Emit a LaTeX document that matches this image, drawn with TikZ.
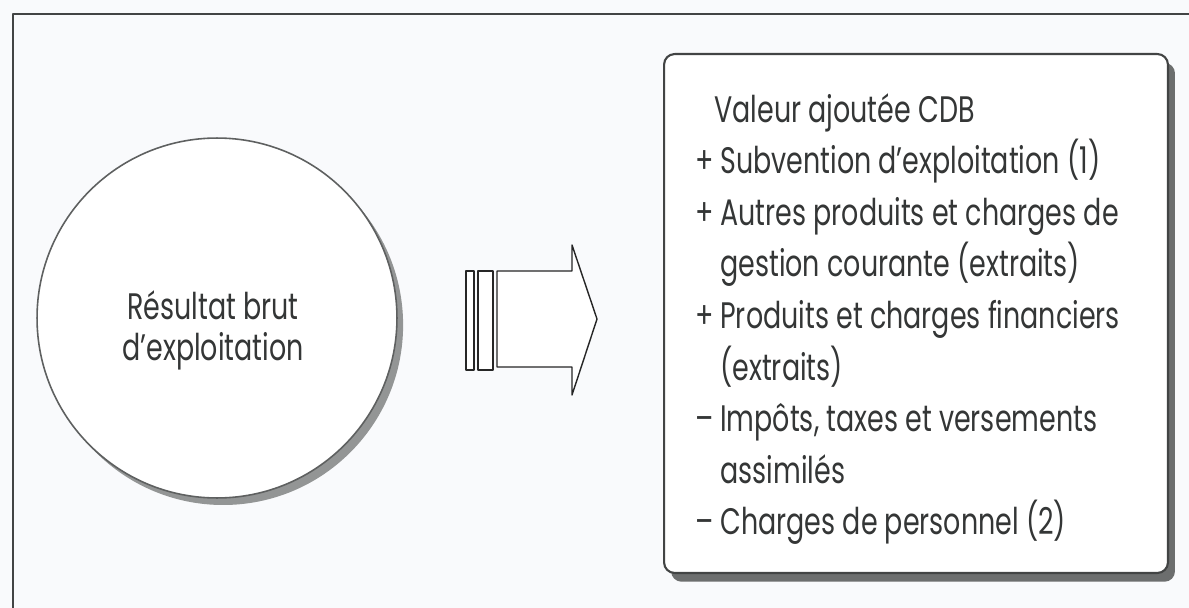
\documentclass[tikz,border=0pt]{standalone}
\usepackage{fontspec}
\setmainfont{Poppins}[FakeStretch=0.73]
\usepackage{tikz}
\usetikzlibrary{positioning, calc, shadows}

\definecolor{fond}{RGB}{249,250,252}
\definecolor{trait}{RGB}{66,68,68}
\definecolor{ombre}{RGB}{120,122,122}
\definecolor{encre}{RGB}{52,54,54}

\begin{document}
\begin{tikzpicture}[x=0.02cm, y=-0.02cm, line cap=round, line join=round]
    % Styles
    \tikzset{
        cadre/.style={line width=1.4pt, trait},
        bulle/.style={circle, draw=trait!85, line width=0.9pt, fill=white, minimum size=7.2cm, inner sep=0pt,
            drop shadow={shadow xshift=3.5pt, shadow yshift=-4pt, fill=ombre!80, opacity=1}},
        boite/.style={rectangle, rounded corners=6pt, draw=trait, line width=1.2pt, fill=white,
            minimum width=10.08cm, minimum height=10.38cm, inner sep=0pt,
            drop shadow={shadow xshift=4pt, shadow yshift=-5pt, fill=ombre!90!black, opacity=1}},
        barre/.style={line width=0.8pt, black!85, fill=white},
        fleche/.style={line width=0.8pt, black!85, fill=white},
        ligne/.style={anchor=base west, inner sep=0pt, font=\fontsize{21}{23.3}\selectfont, text=encre}
    }

    % Fond et cadre (ouvert en bas et a droite)
    \fill[fond] (0,0) rectangle (1189,608);
    \useasboundingbox (0,0) rectangle (1189,608);
    \draw[cadre] (13,608) -- (13,14) -- (1189,14);

    % --- Cercle ---
    \node[bulle] (rbe) at (217,318) {};
    \node[align=center, inner sep=0pt, text=encre, font=\fontsize{21}{23.3}\selectfont]
        (rbe_txt) at (213,330) {Résultat brut\\d’exploitation};

    % --- Barres et fleche ---
    \draw[barre] (466,271) rectangle (474,370);
    \draw[barre] (478,271) rectangle (493,370);

    \coordinate (F_hg) at (497,271);
    \coordinate (F_bg) at (497,367);
    \coordinate (F_pointe) at (597,319);
    \draw[fleche] (F_hg) -- (572,271) -- (572,245) -- (F_pointe)
        -- (572,395) -- (572,367) -- (F_bg) -- cycle;

    % --- Boite de droite ---
    \node[boite] (va) at (916,313.5) {};
    \node[ligne] (va_l0) at (714,122) {Valeur ajoutée CDB};
    \foreach \signe/\texte [count=\i] in {
        +/{Subvention d’exploitation (1)},
        +/{Autres produits et charges de},
        {}/{gestion courante (extraits)},
        +/{Produits et charges financiers},
        {}/{(extraits)},
        –/{Impôts, taxes et versements},
        {}/{assimilés},
        –/{Charges de personnel (2)}
    }{
        \node[ligne] (va_s\i) at (695,{122+51.6*\i}) {\signe};
        \node[ligne] (va_l\i) at (720,{122+51.6*\i}) {\texte};
    }

\end{tikzpicture}
\end{document}
